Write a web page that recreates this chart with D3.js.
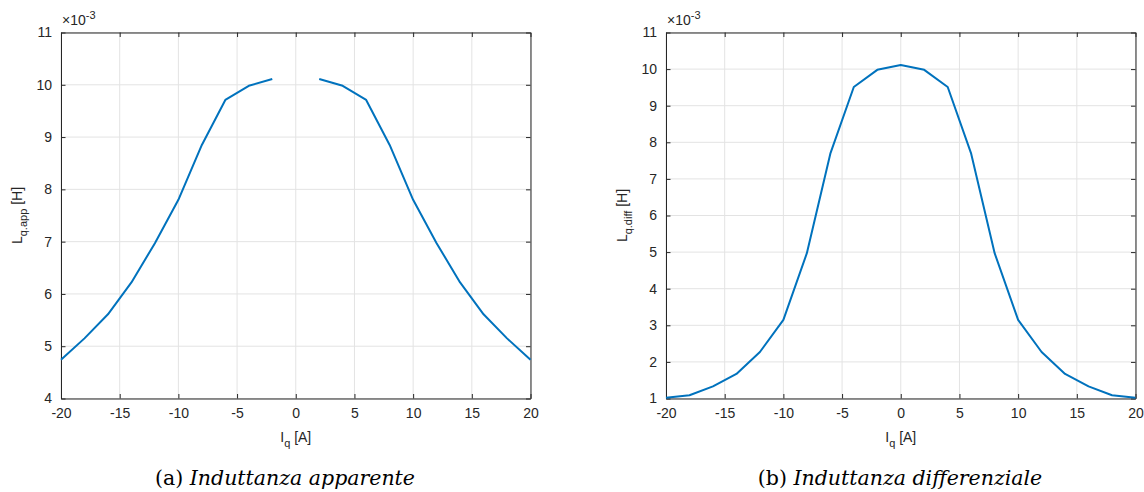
<!DOCTYPE html>
<html>
<head>
<meta charset="utf-8">
<script src="https://cdn.jsdelivr.net/npm/d3@7"></script>
<style>
  html, body { margin: 0; padding: 0; background: #fff; }
  svg { display: block; }
  .tick text { font-family: "Liberation Sans", Arial, sans-serif; font-size: 14px; fill: #262626; }
</style>
</head>
<body>
<svg id="chart" width="1144" height="492"></svg>
<script>
// ---- data ----
const iq = [-20, -18, -16, -14, -12, -10, -8, -6, -4, -2, 0, 2, 4, 6, 8, 10, 12, 14, 16, 18, 20];
// apparent inductance (x1e-3 H), undefined at Iq = 0
const lqApp = [4.74, 5.15, 5.61, 6.22, 6.97, 7.8, 8.85, 9.71, 9.98, 10.11, null, 10.11, 9.98, 9.71, 8.85, 7.8, 6.97, 6.22, 5.61, 5.15, 4.74];
// differential inductance (x1e-3 H)
const lqDiff = [1.02, 1.09, 1.33, 1.67, 2.27, 3.15, 4.97, 7.69, 9.51, 9.98, 10.11, 9.98, 9.51, 7.69, 4.97, 3.15, 2.27, 1.67, 1.33, 1.09, 1.02];
const xTicks = [-20, -15, -10, -5, 0, 5, 10, 15, 20];
const yTicksApp = [4, 5, 6, 7, 8, 9, 10, 11];
const yTicksDiff = [1, 2, 3, 4, 5, 6, 7, 8, 9, 10, 11];
const panels = [
  { left: 61, right: 530.5, values: lqApp, yDomain: [4, 11], yTicks: yTicksApp, ySub: "q.app", captionX: 285, tag: "(a)", caption: "Induttanza apparente" },
  { left: 666, right: 1135.5, values: lqDiff, yDomain: [1, 11], yTicks: yTicksDiff, ySub: "q.diff", captionX: 900, tag: "(b)", caption: "Induttanza differenziale" }
];

const svg = d3.select("#chart");
const plotTop = 32.5, plotBottom = 398.5;
const axisColor = "#262626";
const fmt = d => String(d);

panels.forEach(p => {
  const x = d3.scaleLinear().domain([-20, 20]).range([p.left, p.right]);
  const y = d3.scaleLinear().domain(p.yDomain).range([plotBottom, plotTop]);
  const g = svg.append("g");

  // grid
  g.append("g").selectAll("line").data(xTicks).join("line")
    .attr("x1", d => x(d)).attr("x2", d => x(d)).attr("y1", plotTop).attr("y2", plotBottom)
    .attr("stroke", "#e3e3e3").attr("stroke-width", 1);
  g.append("g").selectAll("line").data(p.yTicks).join("line")
    .attr("x1", p.left).attr("x2", p.right).attr("y1", d => y(d)).attr("y2", d => y(d))
    .attr("stroke", "#e3e3e3").attr("stroke-width", 1);

  // axes
  const tickLen = 4.5;
  const xb = g.append("g").attr("transform", `translate(0,${plotBottom})`)
    .call(d3.axisBottom(x).tickValues(xTicks).tickSizeInner(-tickLen).tickSizeOuter(0).tickPadding(10).tickFormat(fmt));
  const xt = g.append("g").attr("transform", `translate(0,${plotTop})`)
    .call(d3.axisTop(x).tickValues(xTicks).tickSizeInner(-tickLen).tickSizeOuter(0).tickFormat(""));
  const yl = g.append("g").attr("transform", `translate(${p.left},0)`)
    .call(d3.axisLeft(y).tickValues(p.yTicks).tickSizeInner(-tickLen).tickSizeOuter(0).tickPadding(9).tickFormat(fmt));
  const yr = g.append("g").attr("transform", `translate(${p.right},0)`)
    .call(d3.axisRight(y).tickValues(p.yTicks).tickSizeInner(-tickLen).tickSizeOuter(0).tickFormat(""));
  [xb, xt, yl, yr].forEach(a => {
    a.selectAll("path").attr("stroke", axisColor).attr("stroke-width", 1);
    a.selectAll("line").attr("stroke", axisColor).attr("stroke-width", 1);
  });
  xb.selectAll(".tick text").attr("dy", "0.71em");

  // line
  const line = d3.line()
    .defined((d, i) => p.values[i] !== null)
    .x((d, i) => x(iq[i]))
    .y((d, i) => y(p.values[i]));
  g.append("path").datum(p.values).attr("d", line)
    .attr("fill", "none").attr("stroke", "#0072BD").attr("stroke-width", 2)
    .attr("stroke-linejoin", "round");

  // exponent label
  const ex = g.append("text").attr("x", p.left + 1).attr("y", 25)
    .attr("font-family", "Liberation Sans, Arial, sans-serif").attr("font-size", 14).attr("fill", axisColor);
  ex.append("tspan").text("×10");
  ex.append("tspan").attr("font-size", 11).attr("dy", -6).text("-3");

  // x label
  const cx = (p.left + p.right) / 2;
  const xl = g.append("text").attr("x", cx).attr("y", 442).attr("text-anchor", "middle")
    .attr("font-family", "Liberation Sans, Arial, sans-serif").attr("font-size", 14).attr("fill", axisColor);
  xl.append("tspan").text("I");
  xl.append("tspan").attr("font-size", 11).attr("dy", 5).text("q");
  xl.append("tspan").attr("dy", -5).text(" [A]");

  // y label
  const cy = (plotTop + plotBottom) / 2;
  const ylab = g.append("text").attr("transform", `translate(${p.left - 39},${cy}) rotate(-90)`)
    .attr("text-anchor", "middle")
    .attr("font-family", "Liberation Sans, Arial, sans-serif").attr("font-size", 14).attr("fill", axisColor);
  ylab.append("tspan").text("L");
  ylab.append("tspan").attr("font-size", 11).attr("dy", 5).text(p.ySub);
  ylab.append("tspan").attr("dy", -5).text(" [H]");

  // caption
  const cap = svg.append("text").attr("x", p.captionX).attr("y", 485).attr("text-anchor", "middle")
    .attr("font-family", "'DejaVu Serif', 'Liberation Serif', serif").attr("font-size", 20.5).attr("fill", "#000");
  cap.append("tspan").text(p.tag + " ");
  cap.append("tspan").attr("font-style", "italic").text(p.caption);
});
</script>
</body>
</html>
